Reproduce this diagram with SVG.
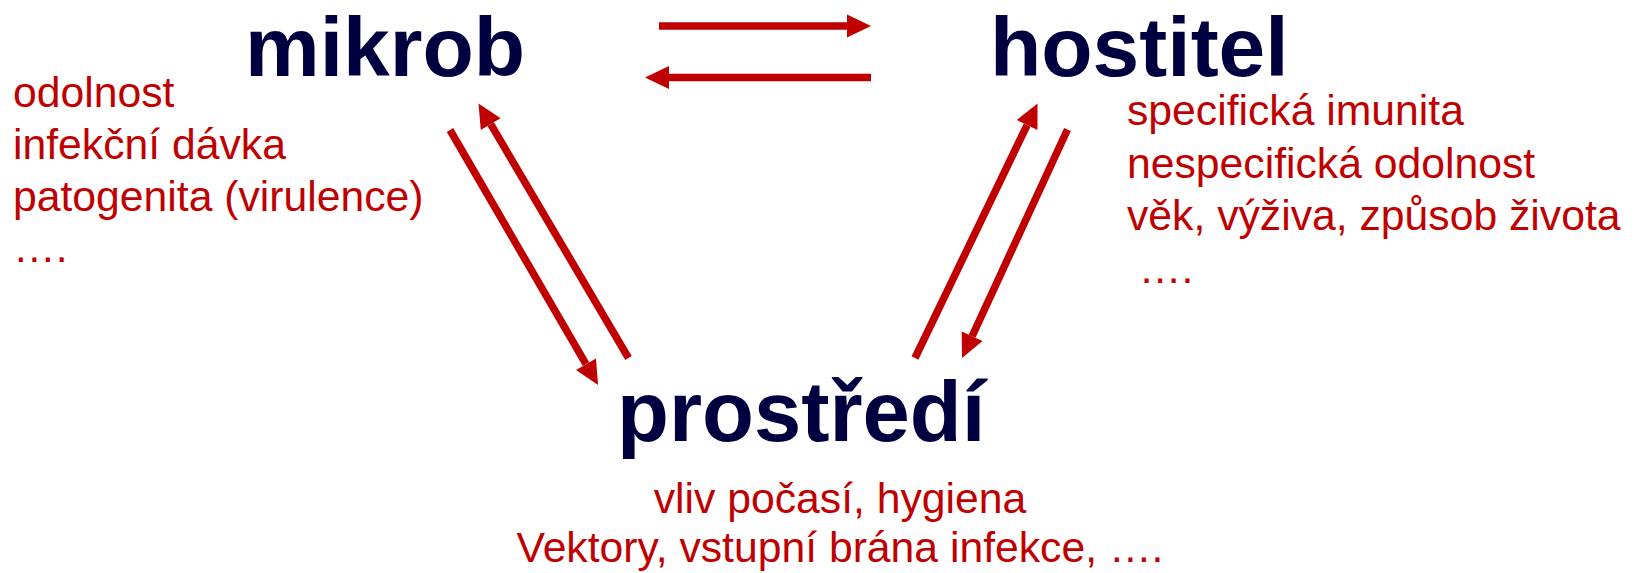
<svg xmlns="http://www.w3.org/2000/svg" width="1639" height="573" viewBox="0 0 1639 573">
  <style>
    .title { font-family: "Liberation Sans", Arial, sans-serif; font-weight: bold; font-size: 85px; fill: #000040; }
    .top { font-size: 84px; }
    .note { font-family: "Liberation Sans", Arial, sans-serif; font-size: 42.7px; fill: #C00000; }
    .conn { stroke: #C00000; stroke-width: 7.5; fill: none; marker-end: url(#head); }
  </style>
  <defs>
    <marker id="head" markerUnits="userSpaceOnUse" markerWidth="24" markerHeight="24" refX="0" refY="11.5" orient="auto" overflow="visible">
      <path d="M0,0 L24,11.5 L0,23 Z" fill="#C00000"/>
    </marker>
  </defs>
  <rect width="1639" height="573" fill="#FFFFFF"/>

  <g id="connectors">
    <line class="conn" x1="659" y1="26" x2="847" y2="26"/>
    <line class="conn" x1="871" y1="77.5" x2="669" y2="77.5"/>
    <line class="conn" x1="450" y1="130" x2="586" y2="364.2"/>
    <line class="conn" x1="628.5" y1="358" x2="490.7" y2="124.2"/>
    <line class="conn" x1="915" y1="358" x2="1027.1" y2="125.1"/>
    <line class="conn" x1="1067.5" y1="129.5" x2="972.1" y2="336.2"/>
  </g>

  <g id="mikrob">
    <text class="title top" x="245" y="76">mikrob</text>
    <text class="note" x="13" y="107">odolnost</text>
    <text class="note" x="13" y="159">infekční dávka</text>
    <text class="note" x="13" y="210.5">patogenita (virulence)</text>
    <text class="note" x="13" y="262">….</text>
  </g>

  <g id="hostitel">
    <text class="title top" x="990" y="76">hostitel</text>
    <text class="note" x="1127" y="125">specifická imunita</text>
    <text class="note" x="1127" y="177.6">nespecifická odolnost</text>
    <text class="note" x="1127" y="230.2">věk, výživa, způsob života</text>
    <text class="note" x="1127" y="282.8" xml:space="preserve"> ….</text>
  </g>

  <g id="prostredi">
    <text class="title" x="617" y="441">prostředí</text>
    <text class="note" x="840" y="512.7" text-anchor="middle">vliv počasí, hygiena</text>
    <text class="note" x="840" y="561.7" text-anchor="middle">Vektory, vstupní brána infekce, ….</text>
  </g>
</svg>
